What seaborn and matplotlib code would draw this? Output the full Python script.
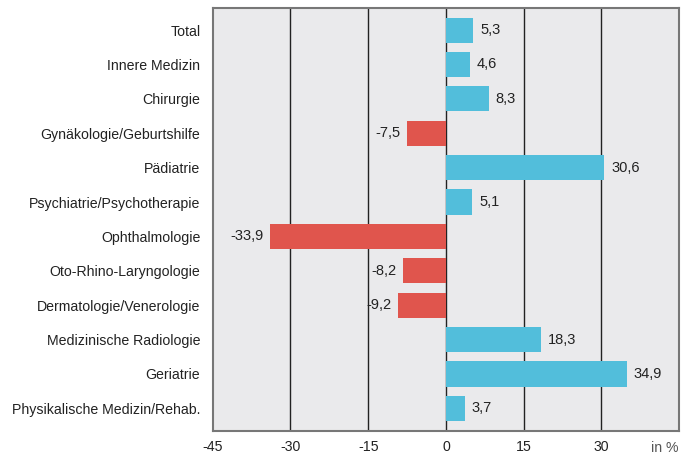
import matplotlib
matplotlib.use('Agg')
import matplotlib.pyplot as plt
import seaborn as sns
import pandas as pd

categories = ['Total', 'Innere Medizin', 'Chirurgie', 'Gynäkologie/Geburtshilfe', 'Pädiatrie',
              'Psychiatrie/Psychotherapie', 'Ophthalmologie', 'Oto-Rhino-Laryngologie',
              'Dermatologie/Venerologie', 'Medizinische Radiologie', 'Geriatrie',
              'Physikalische Medizin/Rehab.']
values = [5.3, 4.6, 8.3, -7.5, 30.6, 5.1, -33.9, -8.2, -9.2, 18.3, 34.9, 3.7]
x_ticks = [-45, -30, -15, 0, 15, 30]

sns.set_theme(style='white')
plt.rcParams['font.family'] = ['Liberation Sans', 'DejaVu Sans']
fs = 10.2

df = pd.DataFrame({'Fach': categories, 'Wert': values})
df['Farbe'] = ['pos' if v >= 0 else 'neg' for v in values]

fig = plt.figure(figsize=(6.82, 4.55), dpi=100)
ax = fig.add_axes([0.312, 0.0534, 0.6836, 0.9296])
ax.set_facecolor('#eaeaec')

sns.barplot(data=df, x='Wert', y='Fach', hue='Farbe', order=categories,
            palette={'pos': '#52bedb', 'neg': '#e0554d'}, width=0.73,
            dodge=False, legend=False, saturation=1, linewidth=0, ax=ax)

for x in [-30, -15, 0, 15, 30]:
    ax.axvline(x, color='#222222', lw=1.0, zorder=0)

for i, v in enumerate(values):
    label = f'{v:.1f}'.replace('.', ',')
    if v >= 0:
        ax.text(v + 1.3, i, label, va='center', ha='left', fontsize=fs + 0.3, color='#222222')
    else:
        ax.text(v - 1.3, i, label, va='center', ha='right', fontsize=fs + 0.3, color='#222222')

ax.set_xlim(-45, 45)
ax.set_ylim(11.65, -0.65)
ax.set_xticks(x_ticks)
ax.set_xticklabels([str(t) for t in x_ticks], fontsize=fs, color='#222222')
ax.tick_params(axis='y', labelsize=fs, labelcolor='#222222', length=0, pad=9)
ax.tick_params(axis='x', length=0, pad=7)
ax.set_xlabel('')
ax.set_ylabel('')
ax.text(45, -0.024, 'in %', transform=ax.get_xaxis_transform(), ha='right', va='top',
        fontsize=fs, color='#555555')

for s in ax.spines.values():
    s.set_visible(True)
    s.set_color('#777777')
    s.set_linewidth(1.5)

plt.savefig('out.png', dpi=100)
plt.close()
